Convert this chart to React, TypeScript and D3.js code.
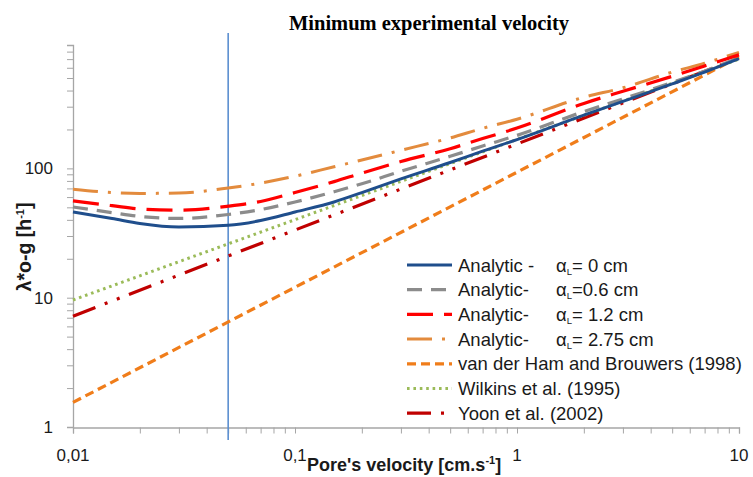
import React, { useEffect, useRef } from 'react';
import * as d3 from 'd3';

// pore velocity samples for the analytic curves [cm/s]
const vAnalytic = [0.01, 0.015, 0.02, 0.03, 0.05, 0.07, 0.1, 0.15, 0.2, 0.3, 0.5, 0.7, 1, 2, 3, 5, 7, 10];
const analytic0 = [46, 41, 37.5, 35.2, 36.3, 39.5, 46, 55, 65, 83, 111, 136, 167, 258, 330, 450, 555, 705];
const analytic06 = [50.3, 45.5, 42.5, 41, 44, 48, 55, 66, 76, 95, 124, 149, 180, 275, 345, 462, 565, 720];
const analytic12 = [56, 51.5, 48.5, 47.5, 51, 55.5, 65, 79, 92, 113, 142, 170, 205, 318, 395, 515, 620, 755];
const analytic275 = [69, 65, 64, 64.5, 70.5, 77, 87, 103, 116, 138, 172, 204, 240, 355, 420, 555, 650, 790];

// correlations (straight lines on log-log axes)
const vCorrelation = [0.01, 10];
const vanDerHam = [1.55, 725];
const wilkins = [9.6, 700];
const yoon = [7.2, 715];

const minVelocity = 0.05;

const xMajorTicks = [0.01, 0.1, 1, 10];
const xTickLabels = ['0,01', '0,1', '1', '10'];
const yMajorTicks = [1, 10, 100];
const yTickLabels = ['1', '10', '100'];

const legendNames = [
  'Analytic -',
  'Analytic-',
  'Analytic-',
  'Analytic-',
  'van der Ham and Brouwers (1998)',
  'Wilkins et al. (1995)',
  'Yoon et al. (2002)',
];
const legendAlpha = ['= 0 cm', '=0.6 cm', '= 1.2 cm', '= 2.75 cm', '', '', ''];

const App: React.FC = () => {
  const svgRef = useRef<SVGSVGElement>(null);

  useEffect(() => {
    if (!svgRef.current) return;
    document.body.style.margin = '0';

    const width = 753;
    const height = 477;
    const left = 73, right = 739, top = 45, bottom = 427;
    const font = "'Liberation Sans', Arial, sans-serif";

    d3.select(svgRef.current).selectAll('*').remove();
    const svg = d3.select(svgRef.current)
      .attr('width', width)
      .attr('height', height)
      .attr('viewBox', `0 0 ${width} ${height}`)
      .style('display', 'block')
      .style('background', '#fff');

    const x = d3.scaleLog().domain([0.01, 10]).range([left, right]);
    const y = d3.scaleLog().domain([1, 900]).range([bottom, top]);

    const minor = (decades: number[]) => {
      const out: number[] = [];
      decades.forEach(d => { for (let k = 1; k <= 9; k++) out.push(d * k); });
      return out;
    };

    // Axes
    const axisColor = '#a6a6a6';
    const xAxis = svg.append('g')
      .attr('transform', `translate(0,${bottom + 0.5})`)
      .call(d3.axisBottom(x).tickValues([...minor([0.01, 0.1, 1]), 10]).tickSize(6).tickFormat(() => ''));
    xAxis.select('.domain').attr('stroke', axisColor).attr('stroke-width', 1.3);
    xAxis.selectAll('.tick line').attr('stroke', axisColor);

    const yAxis = svg.append('g')
      .attr('transform', `translate(${left},0)`)
      .call(d3.axisLeft(y).tickValues(minor([1, 10, 100])).tickSize(6).tickFormat(() => ''));
    yAxis.select('.domain').attr('stroke', axisColor).attr('stroke-width', 1.3);
    yAxis.selectAll('.tick line').attr('stroke', axisColor);

    svg.append('g').selectAll('text')
      .data(xMajorTicks)
      .enter().append('text')
      .attr('x', d => x(d))
      .attr('y', 461)
      .attr('text-anchor', 'middle')
      .attr('font-family', font)
      .attr('font-size', 17)
      .attr('fill', '#1a1a1a')
      .text((_, i) => xTickLabels[i]);

    svg.append('g').selectAll('text')
      .data(yMajorTicks)
      .enter().append('text')
      .attr('x', 53)
      .attr('y', d => y(d) + 6)
      .attr('text-anchor', 'end')
      .attr('font-family', font)
      .attr('font-size', 17)
      .attr('fill', '#1a1a1a')
      .text((_, i) => yTickLabels[i]);

    // Minimum velocity marker
    svg.append('line')
      .attr('x1', x(minVelocity)).attr('x2', x(minVelocity))
      .attr('y1', 33).attr('y2', 440)
      .attr('stroke', '#5b8fd0')
      .attr('stroke-width', 1.6);

    const series = [
      { xs: vAnalytic, ys: analytic0, color: '#1f4e8c', dash: null, w: 3 },
      { xs: vAnalytic, ys: analytic06, color: '#8c8c8c', dash: '15 9', w: 3.2 },
      { xs: vAnalytic, ys: analytic12, color: '#ff0000', dash: '26 11', w: 3.2 },
      { xs: vAnalytic, ys: analytic275, color: '#e38b3d', dash: '25 10 3 10', w: 3 },
      { xs: vCorrelation, ys: vanDerHam, color: '#f07d1a', dash: '9 5', w: 3.2 },
      { xs: vCorrelation, ys: wilkins, color: '#9bbb59', dash: '2.6 3.8', w: 3 },
      { xs: vCorrelation, ys: yoon, color: '#c00000', dash: '24 10 3 10 3 10', w: 3.2 },
    ];

    const line = d3.line<[number, number]>()
      .x(d => x(d[0]))
      .y(d => y(d[1]))
      .curve(d3.curveMonotoneX);

    // draw back to front like the original (correlations first)
    const order = [4, 6, 5, 3, 2, 1, 0];
    order.forEach(i => {
      const s = series[i];
      svg.append('path')
        .datum(s.xs.map((v, j) => [v, s.ys[j]] as [number, number]))
        .attr('d', line)
        .attr('fill', 'none')
        .attr('stroke', s.color)
        .attr('stroke-width', s.w)
        .attr('stroke-dasharray', s.dash)
        .attr('stroke-linejoin', 'round');
    });

    // Legend
    const legend = svg.append('g');
    const rowY = (i: number) => 265 + i * 24.7;
    series.forEach((s, i) => {
      legend.append('line')
        .attr('x1', 407).attr('x2', 452)
        .attr('y1', rowY(i)).attr('y2', rowY(i))
        .attr('stroke', s.color)
        .attr('stroke-width', s.w)
        .attr('stroke-dasharray', s.dash);
      legend.append('text')
        .attr('x', 458)
        .attr('y', rowY(i) + 6.5)
        .attr('font-family', font)
        .attr('font-size', 18.5)
        .attr('fill', '#1a1a1a')
        .text(legendNames[i]);
      if (legendAlpha[i]) {
        const t = legend.append('text')
          .attr('x', 556)
          .attr('y', rowY(i) + 6.5)
          .attr('font-family', font)
          .attr('font-size', 18.5)
          .attr('fill', '#1a1a1a');
        t.append('tspan').text('α');
        t.append('tspan').attr('font-size', 9.5).attr('dy', 3).text('L');
        t.append('tspan').attr('dy', -3).text(legendAlpha[i]);
      }
    });

    // Title and axis titles
    svg.append('text')
      .attr('x', 429).attr('y', 30)
      .attr('text-anchor', 'middle')
      .attr('font-family', "'Liberation Serif', 'Times New Roman', serif")
      .attr('font-weight', 'bold')
      .attr('font-size', 20.5)
      .text('Minimum experimental velocity');

    const xt = svg.append('text')
      .attr('x', 307).attr('y', 471)
      .attr('font-family', font)
      .attr('font-weight', 'bold')
      .attr('font-size', 18)
      .attr('fill', '#1a1a1a');
    xt.append('tspan').text("Pore's velocity  [cm.s");
    xt.append('tspan').attr('font-size', 11).attr('dy', -7).text('-1');
    xt.append('tspan').attr('dy', 7).text(']');

    const yt = svg.append('text')
      .attr('transform', 'translate(31,247) rotate(-90)')
      .attr('text-anchor', 'middle')
      .attr('font-family', font)
      .attr('font-weight', 'bold')
      .attr('font-size', 19.5)
      .attr('fill', '#1a1a1a');
    yt.append('tspan').text('λ*o-g [h');
    yt.append('tspan').attr('font-size', 11).attr('dy', -7).text('-1');
    yt.append('tspan').attr('dy', 7).text(']');
  }, []);

  return <svg ref={svgRef} />;
};

export default App;
